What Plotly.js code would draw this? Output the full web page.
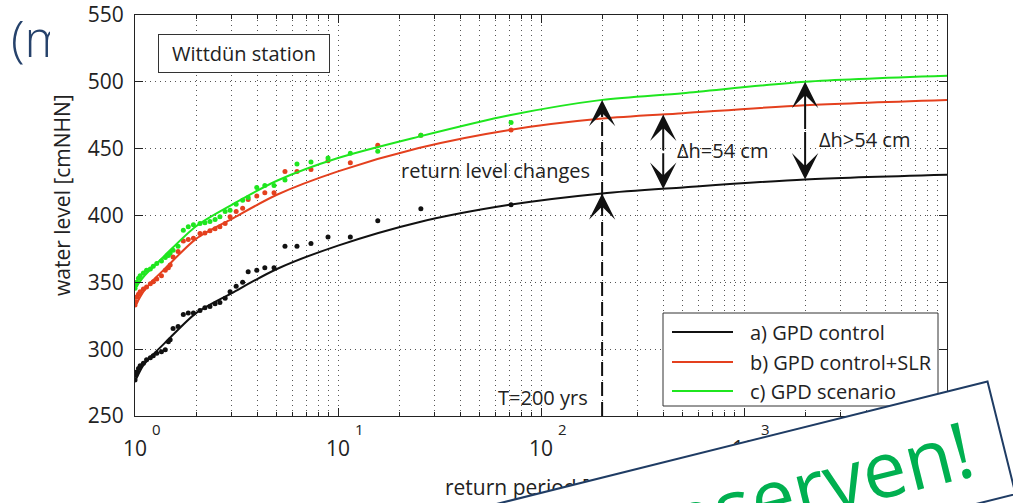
<!DOCTYPE html>
<html><head><meta charset="utf-8">
<script src="https://cdn.plot.ly/plotly-3.0.1.min.js"></script>
<style>html,body{margin:0;padding:0;background:#fff;} #chart{width:1013px;height:503px;}</style>
</head><body><div id="chart"></div>
<script>
// ---- data ----
// empirical (plotted) return periods in years and water levels in cmNHN
const obsPeriods = [1.0,1.01,1.02,1.04,1.06,1.10,1.14,1.19,1.23,1.28,1.35,1.41,1.46,1.49,1.54,1.63,1.73,1.83,1.94,2.09,2.21,2.34,2.48,2.62,2.78,2.94,3.15,3.39,3.61,3.98,4.36,4.84,5.48,6.28,7.36,8.93,11.5,15.7,25.6,71.2];
const obsControl = [277,280.5,283,285.5,287.5,289.5,292,293.5,295,297,298,299.5,305.5,307,315.5,317,326,327,327,329,331,332,334,335,338,343,347,350,358,359,361,361,377,377,379,384,384,396,405,408];
const obsControlSLR = [333,335.5,339,341,343,345,346.5,349,350.5,352.5,355,359,361,363,369,373,381,382,383,386.5,387,388.5,390,391.5,394,399,403,405.5,412,414.5,417,417,433,433,434.5,441,439.5,452.5,460,464];
const obsScenario = [345.5,348,350,353,355,357,359,360,362,364,366,368.5,370,372,374,377,389,391.5,393,394,394.5,395.5,397,399,403,404,408.5,411.5,413.5,421,422.5,422.5,426.5,438.5,440,443,446.5,448,460,469.5];
// fitted GPD return level curves
const fitPeriods = [1,1.1,1.2,1.4,2,3,5,10,25,70,200,500,2000,10000];
const fitControl = [276,288,294.5,304.5,327,342,360,377.5,395,408,416.5,421,427,430.5];
const fitControlSLR = [332,343,350,360,382.5,397.5,415.5,433,450.5,464,472.5,476.5,482.5,486.5];
const fitScenario = [345.5,354,360,370,392,408,426,443,459,475,486.5,491.5,500,504.5];

const seriesNames = ['a) GPD control','b) GPD control+SLR','c) GPD scenario'];
const seriesColors = ['#111111','#e4401e','#1fe61f'];

const xTickVals = [1,10,100,1000,10000];
const xTickText = ['10','10','10','10','10'];
const xTickExp = ['0','1','2','3','4'];

// ---- layout helpers (pixel -> paper) ----
const L = 135, T = 15, W = 812, H = 401;
const px = v => (v - L) / W;
const py = v => (T + H - v) / H;

function interp(xs, ys, x) {
  const lx = Math.log10(x);
  for (let i = 0; i < xs.length - 1; i++) {
    const a = Math.log10(xs[i]), b = Math.log10(xs[i+1]);
    if (lx >= a && lx <= b) return ys[i] + (ys[i+1]-ys[i])*(lx-a)/(b-a);
  }
  return ys[ys.length-1];
}

const fits = [fitControl, fitControlSLR, fitScenario];
const obs = [obsControl, obsControlSLR, obsScenario];
const traces = [];
for (let k = 0; k < 3; k++) {
  traces.push({x: obsPeriods, y: obs[k], type:'scatter', mode:'markers',
    marker:{color: seriesColors[k], size:5}, showlegend:false, hoverinfo:'skip'});
  traces.push({x: fitPeriods, y: fits[k], type:'scatter', mode:'lines',
    line:{color: seriesColors[k], width:2, shape:'spline', smoothing:0.8}, name: seriesNames[k], showlegend:false});
}

const font = 'Open Sans, Noto Sans, sans-serif';
const txt = '#222';
const ann = [];
function label(o) { return Object.assign({showarrow:false, xanchor:'center', yanchor:'middle'}, o); }
// background slide fragment
ann.push(label({xref:'paper', yref:'paper', x:px(9), y:py(38), xanchor:'left', text:'(m',
  font:{family:font, size:50, color:'#26426b', weight:300}}));
ann.push(label({xref:'paper', yref:'paper', x:px(67), y:py(40), text:' ',
  width:34, height:64, bgcolor:'#ffffff', borderwidth:0, borderpad:0}));

// axis titles
ann.push(label({xref:'paper', yref:'paper', x:px(62), y:py(195), text:'water level [cmNHN]', textangle:-90,
  font:{family:font, size:21, color:txt}}));
ann.push(label({xref:'paper', yref:'paper', x:px(443), y:py(487), xanchor:'left', text:'return period [yrs]',
  font:{family:font, size:21, color:txt}}));
// tick exponents
xTickVals.forEach((v, i) => ann.push(label({xref:'x', yref:'paper', x:Math.log10(v), y:py(429), xshift:21, text:xTickExp[i],
  font:{family:font, size:15, color:txt}})));

// station box
ann.push(label({xref:'paper', yref:'paper', x:px(244), y:py(53.5), text:'Wittdün station',
  width:168, height:35, borderwidth:1, borderpad:1, bordercolor:'#333', bgcolor:'#fff', font:{family:font, size:20, color:txt}}));

// text labels
ann.push(label({xref:'x', yref:'y', x:1.300, y:434, xanchor:'left', text:'return level changes', font:{family:font, size:20, color:txt}}));
ann.push(label({xref:'x', yref:'y', x:2.660, y:449, xanchor:'left', text:'Δh=54 cm', font:{family:font, size:20, color:txt}}));
ann.push(label({xref:'x', yref:'y', x:3.360, y:456.5, xanchor:'left', text:'Δh>54 cm', font:{family:font, size:20, color:txt}}));
ann.push(label({xref:'x', yref:'y', x:2.241, y:263.5, xanchor:'right', text:'T=200 yrs', font:{family:font, size:20, color:txt}}));

// arrows
function arrow(period, tip, tail) {
  const lx = Math.log10(period);
  return {xref:'x', yref:'y', axref:'x', ayref:'y', x:lx, y:tip, ax:lx, ay:tail, text:'', showarrow:true,
    arrowhead:3, arrowsize:2.2, arrowwidth:2, arrowcolor:'#111'};
}
const tDesign = 200, tA = 400, tB = 2000;
const c200 = interp(fitPeriods, fitControl, tDesign), s200 = interp(fitPeriods, fitScenario, tDesign);
ann.push(arrow(tDesign, c200, c200 - 14));
ann.push(arrow(tDesign, s200, s200 - 14));
const cA = interp(fitPeriods, fitControl, tA), rA = interp(fitPeriods, fitControlSLR, tA);
ann.push(arrow(tA, rA, (rA + cA)/2));
ann.push(arrow(tA, cA, (rA + cA)/2));
const cB = interp(fitPeriods, fitControl, tB), sB = interp(fitPeriods, fitScenario, tB);
ann.push(arrow(tB, sB, (sB + cB)/2));
ann.push(arrow(tB, cB, (sB + cB)/2));

// legend texts
const legRows = [332, 362, 391];
seriesNames.forEach((n, i) => ann.push(label({xref:'paper', yref:'paper', x:px(748), y:py(legRows[i]), xanchor:'left', text:n,
  font:{family:font, size:20, color:txt}})));

// overlaid sticker
const ang = -14 * Math.PI / 180;
const ux = -Math.cos(ang), uy = -Math.sin(ang); // along top edge to the left
const dx = -Math.sin(ang), dy = Math.cos(ang);  // downward across sticker
const trX = 988, trY = 380, boxW = 780, boxH = 118;
const cx = trX + ux*boxW/2 + dx*boxH/2, cy = trY + uy*boxW/2 + dy*boxH/2;
ann.push(label({xref:'paper', yref:'paper', x:px(cx), y:py(cy), text:' ',
  width:boxW-4, height:boxH-4, borderwidth:2, borderpad:0, bordercolor:'#1f3c64', bgcolor:'#ffffff', textangle:-14}));
const tcx = trX + ux*203 + dx*60, tcy = trY + uy*203 + dy*60;
ann.push(label({xref:'paper', yref:'paper', x:px(tcx), y:py(tcy), text:'reserven!',
  textangle:-14, font:{family:font, size:78, color:'#00b050'}}));

const shapes = [];
shapes.push({type:'line', xref:'x', yref:'y', x0:tDesign, x1:tDesign, y0:250, y1:s200 - 8, layer:'above',
  line:{color:'#111', width:2, dash:'14px,6px'}});
shapes.push({type:'rect', xref:'paper', yref:'paper', x0:px(663), x1:px(938), y0:py(406), y1:py(313), layer:'above',
  line:{color:'#333', width:1}, fillcolor:'#ffffff'});
legRows.forEach((r, i) => shapes.push({type:'line', xref:'paper', yref:'paper', x0:px(672), x1:px(733), y0:py(r), y1:py(r), layer:'above',
  line:{color:seriesColors[i], width:2}}));

const gridC = '#555';
const layout = {
  width:1013, height:503,
  margin:{l:L, r:1013-L-W, t:T, b:503-T-H, pad:0},
  paper_bgcolor:'#fff', plot_bgcolor:'#fff',
  showlegend:false,
  font:{family:font, color:txt},
  xaxis:{type:'log', range:[0,4], tickmode:'array', tickvals:xTickVals, ticktext:xTickText,
    ticks:'inside', ticklen:8, tickwidth:1, tickcolor:'#222', mirror:'ticks', showline:true, linecolor:'#222', linewidth:1,
    showgrid:true, gridcolor:gridC, griddash:'1px,4px', gridwidth:1, zeroline:false,
    tickfont:{family:font, size:21, color:txt}, ticklabelstandoff:14,
    minor:{dtick:'D1', ticks:'inside', ticklen:4, tickcolor:'#222', showgrid:true, gridcolor:gridC, griddash:'1px,4px', gridwidth:1}},
  yaxis:{range:[250,550], tick0:250, dtick:50, ticks:'inside', ticklen:8, tickwidth:1, tickcolor:'#222', mirror:'ticks',
    showline:true, linecolor:'#222', linewidth:1, showgrid:true, gridcolor:gridC, griddash:'1px,4px', gridwidth:1, zeroline:false,
    tickfont:{family:font, size:21, color:txt}, ticklabelstandoff:6},
  annotations: ann,
  shapes: shapes
};
Plotly.newPlot('chart', traces, layout, {staticPlot:true, displayModeBar:false});
</script></body></html>
